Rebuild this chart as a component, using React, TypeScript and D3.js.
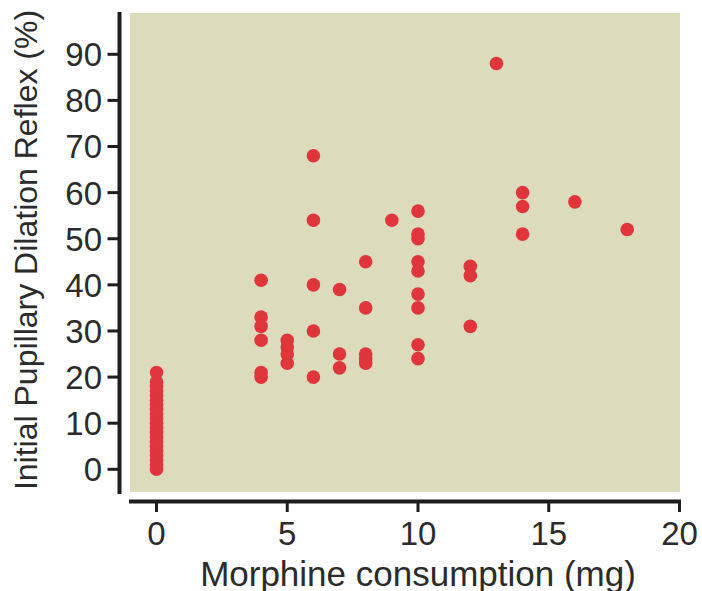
import React from "react";
import * as d3 from "d3";

const xs0 = [0,0,0,0,0,0,0,0,0,0,0,0,0,0,0,0,0,0,0,0,0];
const ys0 = [0,1,2,3,4,5,6,7,8,9,10,11,12,13,14,15,16,17,18,19,21];
const xsRest = [4,4,4,4,4,4, 5,5,5,5, 6,6,6,6,6, 7,7,7, 8,8,8,8,8, 9, 10,10,10,10,10,10,10,10,10, 12,12,12, 13, 14,14,14, 16, 18];
const ysRest = [41,33,31,28,21,20, 28,26.5,25,23, 68,54,40,30,20, 39,25,22, 45,35,25,24,23, 54, 56,51,50,45,43,38,35,27,24, 44,42,31, 88, 60,57,51, 58, 52];
const xTicks = [0, 5, 10, 15, 20];
const yTicks = [0, 10, 20, 30, 40, 50, 60, 70, 80, 90];
const xTitle = "Morphine consumption (mg)";
const yTitle = "Initial Pupillary Dilation Reflex (%)";

export default function App() {
  const W = 702, H = 591;
  const x = d3.scaleLinear().domain([0, 20]).range([156.5, 679.5]);
  const y = d3.scaleLinear().domain([0, 90]).range([469.3, 54.3]);
  const bgX0 = 130, bgX1 = 680, bgY0 = 13, bgY1 = 492;
  const pts = [
    ...xs0.map((v, i) => [v, ys0[i]]),
    ...xsRest.map((v, i) => [v, ysRest[i]]),
  ];
  const font = "Liberation Sans, Arial, sans-serif";
  const axisColor = "#1e1e1e";
  const textColor = "#2b2b2b";
  const fs = 33;
  const axX = 119.5, axY = 501.5;
  return (
    <svg width={W} height={H} style={{ position: "absolute", left: 0, top: 0 }}>
      <rect x={0} y={0} width={W} height={H} fill="#fff" />
      <rect x={bgX0} y={bgY0} width={bgX1 - bgX0} height={bgY1 - bgY0} fill="#dcdcbd" />
      {pts.map((p, i) => (
        <circle key={i} cx={x(p[0])} cy={y(p[1])} r={6.8} fill="#e0353b" />
      ))}
      {/* y axis */}
      <line x1={axX} x2={axX} y1={12} y2={494} stroke={axisColor} strokeWidth={4} />
      {yTicks.map((t) => (
        <g key={t}>
          <line x1={107.5} x2={axX} y1={y(t)} y2={y(t)} stroke={axisColor} strokeWidth={3} />
          <text x={102} y={y(t)} dy="0.36em" textAnchor="end" fontFamily={font} fontSize={fs} fill={textColor}>{t}</text>
        </g>
      ))}
      {/* x axis */}
      <line x1={129} x2={681} y1={axY} y2={axY} stroke={axisColor} strokeWidth={4} />
      {xTicks.map((t) => (
        <g key={t}>
          <line x1={x(t)} x2={x(t)} y1={axY} y2={512} stroke={axisColor} strokeWidth={3} />
          <text x={x(t)} y={545} textAnchor="middle" fontFamily={font} fontSize={fs} fill={textColor}>{t}</text>
        </g>
      ))}
      <text x={418} y={585.5} textAnchor="middle" fontFamily={font} fontSize={35} fill={textColor}>{xTitle}</text>
      <text transform={`translate(37,${250}) rotate(-90)`} textAnchor="middle" fontFamily={font} fontSize={fs - 1} fill={textColor}>{yTitle}</text>
    </svg>
  );
}
